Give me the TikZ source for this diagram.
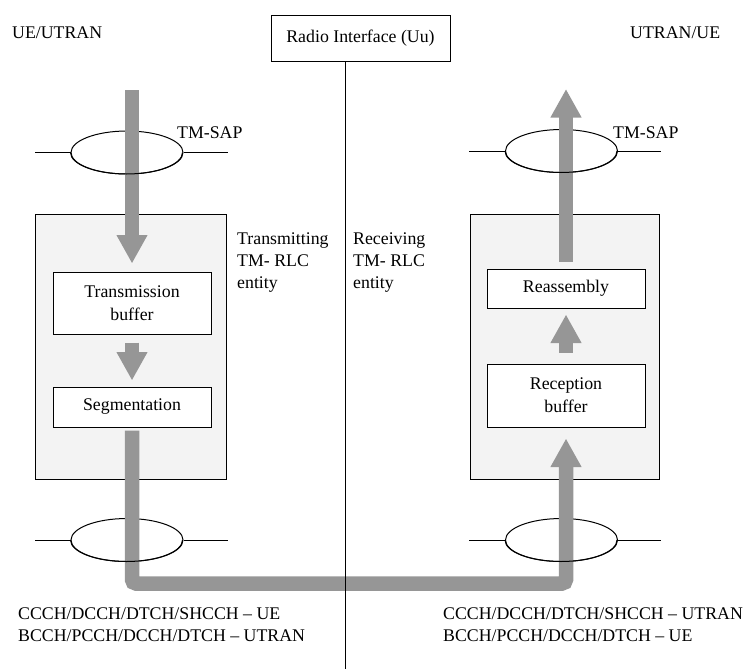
\documentclass[tikz,border=0pt]{standalone}
\usepackage{fontspec}
\setmainfont{Liberation Serif}
\usetikzlibrary{arrows.meta,shapes.geometric}
\definecolor{bargray}{RGB}{150,150,150}
\definecolor{entfill}{RGB}{243,243,243}
\tikzset{
  txt/.style={font=\fontsize{17.8pt}{22pt}\selectfont, inner sep=0pt},
  entity/.style={draw, line width=1pt, fill=entfill, rectangle, inner sep=0pt},
  fbox/.style={draw, line width=1pt, fill=white, rectangle, inner sep=0pt, align=center,
    font=\fontsize{17.8pt}{23pt}\selectfont, minimum width=158pt},
  sap/.style={draw, line width=1pt, ellipse, inner sep=0pt, minimum width=112pt, minimum height=43pt},
  sapline/.style={line width=1pt},
  bar/.style={draw=bargray, line width=14.5pt},
  bararrow/.style={bar, -{Triangle[length=28.5pt,width=29pt]}, bargray},
  vline/.style={line width=1pt}
}
\begin{document}
\begin{tikzpicture}[x=1pt,y=-1pt]
\useasboundingbox (0,0) rectangle (746,669);

% entity boxes
\node[entity, minimum width=191pt, minimum height=265pt] (lent) at (130.5,346.5) {};
\node[entity, minimum width=189pt, minimum height=265pt] (rent) at (564.5,346.5) {};

% function boxes
\node[fbox, minimum height=62pt] (tb) at (132,303) {Transmission\\buffer};
\node[fbox, minimum height=40pt] (seg) at (132,407) {Segmentation};
\node[fbox, minimum height=39pt] (re) at (566,288.5) {Reassembly};
\node[fbox, minimum height=63pt] (rb) at (566,395.5) {Reception\\buffer};

% radio interface
\node[draw, line width=1pt, minimum width=179pt, minimum height=45pt, txt] (radio) at (360.5,38.5) {Radio Interface (Uu)};
\coordinate (vtop) at (345.5,61);
\coordinate (vbot) at (345.5,669);

% SAP ellipses
\node[sap] (sapTL) at (127,152.5) {};
\node[sap] (sapBL) at (127,540) {};
\node[sap] (sapTR) at (561.5,151) {};
\node[sap] (sapBR) at (561.5,540) {};
\coordinate (tlL) at (35,152.5);  \coordinate (tlR) at (228,152.5);
\coordinate (blL) at (35,540);    \coordinate (blR) at (228,540);
\coordinate (trL) at (469,151);   \coordinate (trR) at (661,151);
\coordinate (brL) at (469,540);   \coordinate (brR) at (661,540);
\draw[sapline] (tlL) -- (sapTL.west);
\draw[sapline] (sapTL.east) -- (tlR);
\draw[sapline] (blL) -- (sapBL.west);
\draw[sapline] (sapBL.east) -- (blR);
\draw[sapline] (trL) -- (sapTR.west);
\draw[sapline] (sapTR.east) -- (trR);
\draw[sapline] (brL) -- (sapBR.west);
\draw[sapline] (sapBR.east) -- (brR);

% data flow bars
\coordinate (ltop) at (132,90);
\coordinate (rtop) at (566,89);
\coordinate (bendL) at (132,583.5);
\draw[bararrow, shorten >=8pt] (ltop) -- (tb.north);
\draw[bararrow, shorten <=8pt, shorten >=6pt] (tb.south) -- (seg.north);
\draw[bararrow, rounded corners=4pt, shorten <=3pt, shorten >=11pt] (seg.south) -- (bendL) -| (rb.south);
\draw[bararrow, shorten <=11pt, shorten >=6pt] (rb.north) -- (re.south);
\draw[bararrow, shorten <=7pt] (re.north) -- (rtop);

% lower halves of the SAP ellipses lie over the bars
\draw[sapline] (sapTL.west) arc[start angle=180, end angle=0, x radius=56, y radius=21.5];
\draw[sapline] (sapBL.west) arc[start angle=180, end angle=0, x radius=56, y radius=21.5];
\draw[sapline] (sapTR.west) arc[start angle=180, end angle=0, x radius=56, y radius=21.5];
\draw[sapline] (sapBR.west) arc[start angle=180, end angle=0, x radius=56, y radius=21.5];

% interface line
\draw[vline] (vtop) -- (vbot);

% labels
\node[txt, anchor=base west] (ueutran) at (12,39) {UE/UTRAN};
\node[txt, anchor=base west] (utranue) at (630,39) {UTRAN/UE};
\node[txt, anchor=base west] (tmsapL) at (177,138) {TM-SAP};
\node[txt, anchor=base west] (tmsapR) at (613,138) {TM-SAP};
\node[txt, anchor=north west, align=left] (txent) at (237,233) {Transmitting\\TM- RLC\\entity};
\node[txt, anchor=north west, align=left] (rxent) at (353,233) {Receiving\\TM- RLC\\entity};
\node[txt, anchor=north west, align=left] (chL) at (18,608) {CCCH/DCCH/DTCH/SHCCH -- UE\\BCCH/PCCH/DCCH/DTCH -- UTRAN};
\node[txt, anchor=north west, align=left] (chR) at (443,608) {CCCH/DCCH/DTCH/SHCCH -- UTRAN\\BCCH/PCCH/DCCH/DTCH -- UE};
\end{tikzpicture}
\end{document}
